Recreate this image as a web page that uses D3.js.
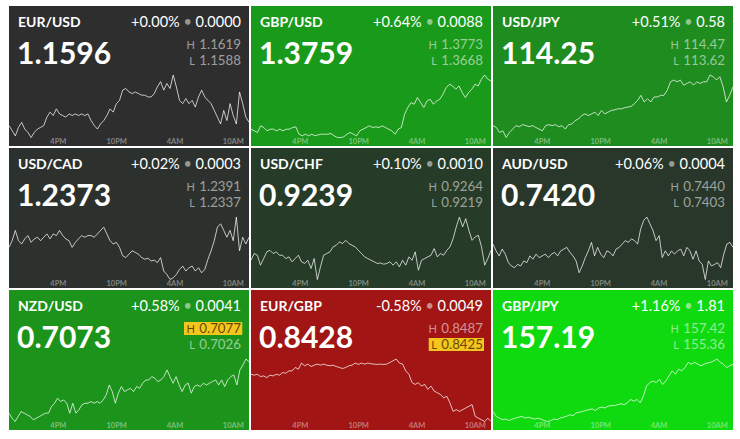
<!DOCTYPE html>
<html><head><meta charset="utf-8">
<script src="https://cdn.jsdelivr.net/npm/d3@7"></script>
<style>
html,body{margin:0;padding:0;background:#fff;}
svg{display:block;font-family:Lato,"Open Sans",sans-serif;}
</style></head><body>
<svg id="chart" width="740" height="439"></svg>
<script>
// ---------- data ----------
const pairs = ["EUR/USD","GBP/USD","USD/JPY","USD/CAD","USD/CHF","AUD/USD","NZD/USD","EUR/GBP","GBP/JPY"];
const prices = ["1.1596","1.3759","114.25","1.2373","0.9239","0.7420","0.7073","0.8428","157.19"];
const changePct = [0.00, 0.64, 0.51, 0.02, 0.10, 0.06, 0.58, -0.58, 1.16];
const changeAbs = ["0.0000","0.0088","0.58","0.0003","0.0010","0.0004","0.0041","0.0049","1.81"];
const highs = ["1.1619","1.3773","114.47","1.2391","0.9264","0.7440","0.7077","0.8487","157.42"];
const lows  = ["1.1588","1.3668","113.62","1.2337","0.9219","0.7403","0.7026","0.8425","155.36"];
const newHigh = [false,false,false,false,false,false,true,false,false];
const newLow  = [false,false,false,false,false,false,false,true,false];
const tickLabels = ["4PM","10PM","4AM","10AM"];
const tickTimes = [new Date(2021,9,25,16,0), new Date(2021,9,25,22,0), new Date(2021,9,26,4,0), new Date(2021,9,26,10,0)];
const timeStart = new Date(2021,9,25,10,58);
const timeEnd   = new Date(2021,9,26,11,40);

const eurusd = [1.15939,1.15914,1.15888,1.15930,1.15955,1.15922,1.15905,1.15880,1.15905,1.15922,1.15930,1.15939,1.15981,1.16006,1.15989,1.16022,1.15997,1.15989,1.15981,1.15997,1.15989,1.15997,1.15989,1.15997,1.15989,1.15997,1.15964,1.15939,1.15922,1.15947,1.15964,1.15989,1.16022,1.16006,1.16048,1.16064,1.16115,1.16123,1.16106,1.16098,1.16106,1.16098,1.16090,1.16090,1.16081,1.16081,1.16098,1.16131,1.16157,1.16115,1.16148,1.16123,1.16190,1.16131,1.16064,1.16048,1.16073,1.16048,1.16064,1.16031,1.16081,1.16115,1.16081,1.16064,1.16048,1.16014,1.15981,1.15947,1.16014,1.15964,1.16048,1.15989,1.15947,1.16106,1.16048,1.15981,1.15955];
const gbpusd = [1.36829,1.36802,1.36774,1.36885,1.36857,1.36802,1.36829,1.36829,1.36802,1.36829,1.36802,1.36829,1.36829,1.36857,1.36868,1.36746,1.36719,1.36746,1.36719,1.36746,1.36719,1.36735,1.36746,1.36746,1.36746,1.36757,1.36719,1.36691,1.36691,1.36702,1.36746,1.36774,1.36746,1.36719,1.36802,1.36829,1.36857,1.36885,1.36857,1.36868,1.36857,1.36885,1.36857,1.36829,1.36802,1.36746,1.36829,1.36857,1.37078,1.37189,1.37272,1.37244,1.37355,1.37272,1.37189,1.37299,1.37327,1.37244,1.37299,1.37327,1.37410,1.37520,1.37576,1.37548,1.37493,1.37548,1.37438,1.37355,1.37438,1.37493,1.37576,1.37548,1.37659,1.37730,1.37659,1.37631];
const usdjpy = [113.786,113.763,113.696,113.718,113.629,113.696,113.741,113.786,113.772,113.799,113.786,113.772,113.786,113.763,113.741,113.718,113.786,113.799,113.786,113.799,113.772,113.786,113.741,113.799,113.808,113.853,113.875,113.920,113.942,113.920,113.942,113.965,113.920,113.987,113.942,113.965,113.987,113.996,114.009,114.009,114.023,114.032,114.041,114.076,114.121,114.188,114.099,114.143,114.099,114.166,114.166,114.188,114.188,114.255,114.367,114.390,114.367,114.390,114.322,114.345,114.367,114.322,114.367,114.345,114.367,114.367,114.457,114.434,114.390,114.434,114.300,114.099,114.188,114.300];
const usdcad = [1.23649,1.23705,1.23791,1.23705,1.23677,1.23720,1.23748,1.23691,1.23720,1.23734,1.23705,1.23734,1.23762,1.23720,1.23762,1.23748,1.23791,1.23748,1.23720,1.23705,1.23649,1.23691,1.23720,1.23748,1.23734,1.23748,1.23748,1.23734,1.23762,1.23791,1.23819,1.23762,1.23705,1.23677,1.23691,1.23649,1.23578,1.23563,1.23592,1.23620,1.23606,1.23592,1.23563,1.23549,1.23558,1.23535,1.23541,1.23521,1.23563,1.23450,1.23421,1.23379,1.23393,1.23421,1.23464,1.23492,1.23450,1.23478,1.23492,1.23450,1.23478,1.23435,1.23464,1.23549,1.23620,1.23705,1.23819,1.23847,1.23791,1.23734,1.23791,1.23705,1.23904,1.23620,1.23734,1.23677,1.23734];
const usdchf = [0.92327,0.92375,0.92363,0.92292,0.92339,0.92387,0.92398,0.92375,0.92387,0.92363,0.92363,0.92339,0.92351,0.92316,0.92339,0.92363,0.92316,0.92304,0.92327,0.92268,0.92339,0.92190,0.92280,0.92363,0.92375,0.92387,0.92422,0.92434,0.92458,0.92446,0.92469,0.92446,0.92434,0.92422,0.92398,0.92375,0.92351,0.92339,0.92327,0.92316,0.92304,0.92308,0.92299,0.92304,0.92316,0.92292,0.92316,0.92280,0.92327,0.92292,0.92351,0.92327,0.92387,0.92256,0.92327,0.92339,0.92351,0.92363,0.92410,0.92351,0.92375,0.92363,0.92398,0.92422,0.92481,0.92564,0.92635,0.92564,0.92623,0.92540,0.92469,0.92493,0.92505,0.92422,0.92292,0.92339,0.92398];
const audusd = [0.74240,0.74201,0.74172,0.74211,0.74182,0.74133,0.74114,0.74104,0.74123,0.74114,0.74143,0.74133,0.74172,0.74153,0.74182,0.74162,0.74172,0.74182,0.74162,0.74182,0.74192,0.74172,0.74201,0.74211,0.74221,0.74192,0.74172,0.74143,0.74075,0.74114,0.74162,0.74201,0.74250,0.74172,0.74221,0.74182,0.74162,0.74201,0.74192,0.74172,0.74211,0.74221,0.74240,0.74260,0.74250,0.74270,0.74260,0.74240,0.74328,0.74377,0.74396,0.74357,0.74318,0.74260,0.74289,0.74162,0.74201,0.74172,0.74201,0.74182,0.74201,0.74211,0.74172,0.74221,0.74201,0.74153,0.74201,0.74143,0.74123,0.74036,0.74143,0.74114,0.74123,0.74133,0.74104,0.74182,0.74240,0.74250,0.74221];
const nzdusd = [0.70328,0.70287,0.70260,0.70301,0.70341,0.70328,0.70314,0.70301,0.70274,0.70287,0.70301,0.70314,0.70328,0.70328,0.70382,0.70409,0.70450,0.70423,0.70436,0.70409,0.70328,0.70409,0.70328,0.70355,0.70396,0.70409,0.70409,0.70423,0.70409,0.70423,0.70409,0.70436,0.70477,0.70558,0.70504,0.70409,0.70491,0.70545,0.70504,0.70518,0.70531,0.70504,0.70545,0.70531,0.70572,0.70599,0.70599,0.70626,0.70613,0.70586,0.70599,0.70626,0.70681,0.70626,0.70572,0.70626,0.70558,0.70504,0.70558,0.70572,0.70491,0.70545,0.70558,0.70545,0.70572,0.70558,0.70572,0.70586,0.70599,0.70558,0.70599,0.70545,0.70599,0.70626,0.70640,0.70558,0.70681,0.70721,0.70770,0.70748];
const eurgbp = [0.84718,0.84709,0.84718,0.84696,0.84702,0.84686,0.84709,0.84702,0.84718,0.84709,0.84734,0.84728,0.84750,0.84750,0.84783,0.84767,0.84825,0.84799,0.84815,0.84792,0.84805,0.84815,0.84805,0.84815,0.84805,0.84799,0.84805,0.84792,0.84783,0.84773,0.84783,0.84799,0.84805,0.84825,0.84812,0.84825,0.84815,0.84825,0.84818,0.84815,0.84812,0.84815,0.84812,0.84815,0.84831,0.84847,0.84864,0.84825,0.84815,0.84750,0.84718,0.84638,0.84621,0.84638,0.84605,0.84621,0.84573,0.84605,0.84557,0.84541,0.84525,0.84492,0.84508,0.84444,0.84363,0.84379,0.84363,0.84379,0.84395,0.84411,0.84428,0.84315,0.84298,0.84282,0.84266,0.84298,0.84266];
const gbpjpy = [155.69,155.53,155.47,155.42,155.44,155.39,155.44,155.47,155.50,155.53,155.47,155.50,155.47,155.44,155.47,155.44,155.39,155.36,155.39,155.44,155.42,155.47,155.50,155.53,155.58,155.55,155.64,155.66,155.69,155.72,155.75,155.77,155.72,155.80,155.83,155.80,155.86,155.88,155.88,155.91,155.94,155.91,155.97,156.08,156.02,156.08,155.97,156.19,156.52,156.63,156.68,156.63,156.74,156.57,156.68,156.85,157.01,156.90,157.07,157.01,157.12,157.29,157.23,157.29,157.23,157.18,157.23,157.27,157.29,157.34,157.40,157.29,157.23,157.12,157.18,157.23];
const series = [eurusd,gbpusd,usdjpy,usdcad,usdchf,audusd,nzdusd,eurgbp,gbpjpy];

// ---------- layout / style ----------
const W = 240, H = 140, GAP = 2, LEFT = 9, TOP = 6;
const color = d3.scaleLinear()
  .domain([-0.6, 0, 0.1, 0.5, 0.65, 1.16])
  .range(["#a51414", "#2e2e2e", "#263b28", "#1e8b1e", "#1a9b1a", "#0fd90f"])
  .clamp(true);

const svg = d3.select("#chart");
const x = d3.scaleTime().domain([timeStart, timeEnd]).range([0, W]);
const span = timeEnd - timeStart;

pairs.forEach((pair, i) => {
  const col = i % 3, row = Math.floor(i / 3);
  const g = svg.append("g")
    .attr("transform", `translate(${LEFT + col * (W + GAP)},${TOP + row * (H + GAP)})`);
  g.append("rect").attr("width", W).attr("height", H).attr("fill", color(changePct[i]));

  // sparkline
  const s = series[i];
  const pts = s.map((v, j) => ({t: new Date(timeStart.getTime() + j * span / (s.length - 1)), v}));
  const y = d3.scaleLinear().domain(d3.extent(s)).range([131.5, 69]);
  g.append("path").datum(pts)
    .attr("fill", "none")
    .attr("stroke", "rgba(255,255,255,0.72)")
    .attr("stroke-width", 1)
    .attr("stroke-linejoin", "round")
    .attr("d", d3.line().x(d => x(d.t)).y(d => y(d.v)));

  // time axis
  const ax = g.append("g").attr("transform", "translate(0,131)")
    .call(d3.axisBottom(x).tickValues(tickTimes).tickFormat((d, k) => tickLabels[k]).tickSize(0).tickPadding(2));
  ax.select(".domain").remove();
  ax.selectAll("text")
    .attr("font-family", "Lato, sans-serif")
    .attr("font-size", 7.5)
    .attr("font-weight", 700)
    .attr("fill", "rgba(255,255,255,0.42)");

  // pair name
  g.append("text").attr("x", 9).attr("y", 21)
    .attr("font-size", 14).attr("font-weight", 700).attr("fill", "#fff").text(pair);
  // price
  g.append("text").attr("x", 8).attr("y", 58)
    .attr("font-size", 30).attr("font-weight", 700).attr("fill", "#fff").text(prices[i]);

  // change text
  const pct = changePct[i];
  const ct = g.append("text").attr("x", 232).attr("y", 21).attr("text-anchor", "end")
    .attr("font-size", 14.5).attr("fill", "#fff");
  ct.append("tspan").text((pct < 0 ? "-" : "+") + Math.abs(pct).toFixed(2) + "%");
  ct.append("tspan").attr("fill", "rgba(255,255,255,0.5)").text(" \u2022 ");
  ct.append("tspan").text(changeAbs[i]);

  // high / low
  [[highs[i], "H", 42.5, newHigh[i]], [lows[i], "L", 58.5, newLow[i]]].forEach(([val, lab, yy, hl]) => {
    const tg = g.append("g");
    const t = tg.append("text").attr("x", 232).attr("y", yy).attr("text-anchor", "end")
      .attr("font-weight", 400)
      .attr("fill", hl ? "rgba(70,50,0,0.85)" : "rgba(255,255,255,0.55)");
    t.append("tspan").attr("font-size", 11).text(lab);
    t.append("tspan").attr("font-size", 13.3).attr("dx", 1).text(" " + val);
    if (hl) {
      const b = t.node().getBBox();
      tg.insert("rect", "text")
        .attr("x", b.x - 2.5).attr("y", yy - 10.5)
        .attr("width", b.width + 3.5).attr("height", 13)
        .attr("fill", "#f4c51c");
    }
  });
});
</script>
</body></html>
